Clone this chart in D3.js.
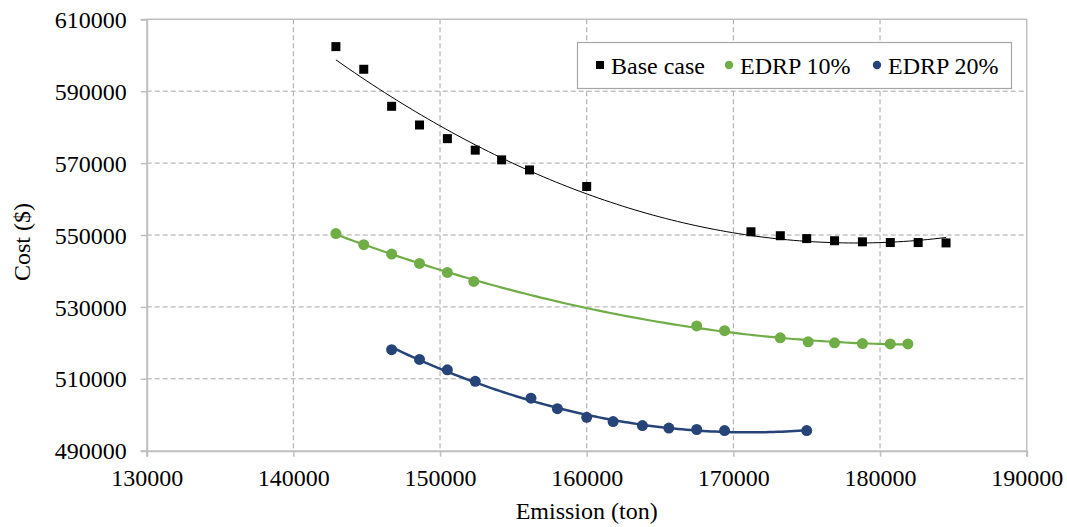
<!DOCTYPE html>
<html lang="en">
<head>
    <meta charset="UTF-8">
    <title>Cost vs Emission</title>
    <script src="https://cdn.jsdelivr.net/npm/d3@7/dist/d3.min.js"></script>
    <style>
        body { margin: 0; background: #fff; }
        svg text { font-family: 'Liberation Serif', Tinos, 'Times New Roman', Times, 'DejaVu Serif', serif !important; fill: #000; }
        .grid line { stroke: #a6a6a6; stroke-width: 1; stroke-dasharray: 5,3; }
    </style>
</head>
<body>
<script>
    // canvas size
    const width = 1067;
    const height = 527;
    const margin = { left: 146.7, right: 40.3, top: 19.3, bottom: 76.3 };

    // data
    const baseX = [142900, 144800, 146700, 148600, 150500, 152400, 154200, 156100, 160000,
                   171200, 173200, 175000, 176900, 178800, 180700, 182600, 184500];
    const baseY = [602400, 596100, 585800, 580600, 576800, 573600, 570900, 568100, 563500,
                   550900, 549800, 549000, 548400, 548100, 547900, 547900, 547800];

    const edrp10X = [142900, 144800, 146700, 148600, 150500, 152300,
                     167500, 169400, 173200, 175100, 176900, 178800, 180700, 181900];
    const edrp10Y = [550400, 547300, 544700, 542100, 539600, 537100,
                     524700, 523400, 521400, 520300, 520000, 519800, 519700, 519700];

    const edrp20X = [146700, 148600, 150500, 152400, 156200, 158000, 160000,
                     161800, 163800, 165600, 167500, 169400, 175000];
    const edrp20Y = [518100, 515400, 512500, 509300, 504600, 501700, 499300,
                     498100, 497000, 496300, 495900, 495600, 495600];

    const xTicks = [130000, 140000, 150000, 160000, 170000, 180000, 190000];
    const yTicks = [490000, 510000, 530000, 550000, 570000, 590000, 610000];

    const seriesNames = ['Base case', 'EDRP 10%', 'EDRP 20%'];
    const seriesColors = ['#000000', '#70ad47', '#264478'];

    let svg = d3.select('body')
        .append('svg')
        .attr('width', width)
        .attr('height', height);

    const x = d3.scaleLinear().domain([130000, 190000]).range([margin.left, width - margin.right]);
    const y = d3.scaleLinear().domain([490000, 610000]).range([height - margin.bottom, margin.top]);

    // grid
    let grid = svg.append('g').attr('class', 'grid');
    grid.selectAll('.gx')
        .data(xTicks.slice(1, -1))
        .enter()
        .append('line')
        .attr('x1', d => x(d)).attr('x2', d => x(d))
        .attr('y1', y(610000)).attr('y2', y(490000));
    grid.selectAll('.gy')
        .data(yTicks.slice(1, -1))
        .enter()
        .append('line')
        .attr('x1', x(130000)).attr('x2', x(190000))
        .attr('y1', d => y(d)).attr('y2', d => y(d));

    // plot border (top / right)
    svg.append('path')
        .attr('d', `M${x(130000)},${y(610000)}H${x(190000)}V${y(490000)}`)
        .attr('fill', 'none')
        .attr('stroke', '#bfbfbf')
        .attr('stroke-width', 1.5);

    // axes
    let xAxis = svg.append('g')
        .attr('transform', `translate(0,${y(490000)})`)
        .call(d3.axisBottom(x).tickValues(xTicks).tickFormat(d3.format('d')).tickSizeOuter(0).tickSize(6).tickPadding(12));
    let yAxis = svg.append('g')
        .attr('transform', `translate(${x(130000)},0)`)
        .call(d3.axisLeft(y).tickValues(yTicks).tickFormat(d3.format('d')).tickSizeOuter(0).tickSize(6).tickPadding(14));

    [xAxis, yAxis].forEach(a => {
        a.attr('font-family', null).attr('font-size', null);
        a.select('.domain').attr('stroke', '#bfbfbf').attr('stroke-width', 2);
        a.selectAll('.tick line').attr('stroke', '#bfbfbf').attr('stroke-width', 1.5);
        a.selectAll('.tick text')
            .style('font-size', '24px')
            .attr('fill', '#000');
    });
    yAxis.selectAll('.tick text').attr('dy', '0.34em');

    svg.append('text')
        .attr('x', (x(130000) + x(190000)) / 2)
        .attr('y', 519)
        .attr('text-anchor', 'middle')
        .style('font-size', '24px')
        .text('Emission (ton)');

    svg.append('text')
        .attr('transform', 'translate(30,242) rotate(-90)')
        .attr('text-anchor', 'middle')
        .style('font-size', '24px')
        .text('Cost ($)');

    // quadratic least squares trendline (like the spreadsheet's polynomial trendline)
    function polyFit (xs, ys) {
        const m = d3.mean(xs);
        const s = 10000;
        const u = xs.map(v => (v - m) / s);
        let S = [0, 0, 0, 0, 0], T = [0, 0, 0];
        u.forEach((v, i) => {
            for (let k = 0; k < 5; k++) S[k] += Math.pow(v, k);
            for (let k = 0; k < 3; k++) T[k] += ys[i] * Math.pow(v, k);
        });
        const A = [[S[0], S[1], S[2]], [S[1], S[2], S[3]], [S[2], S[3], S[4]]];
        const det = M => M[0][0] * (M[1][1] * M[2][2] - M[1][2] * M[2][1])
            - M[0][1] * (M[1][0] * M[2][2] - M[1][2] * M[2][0])
            + M[0][2] * (M[1][0] * M[2][1] - M[1][1] * M[2][0]);
        const D = det(A);
        const c = [0, 1, 2].map(j => det(A.map((row, r) => row.map((v, k) => k === j ? T[r] : v))) / D);
        return v => {
            const t = (v - m) / s;
            return c[0] + c[1] * t + c[2] * t * t;
        };
    }

    const series = [
        { xs: baseX, ys: baseY, w: 1 },
        { xs: edrp10X, ys: edrp10Y, w: 2.2 },
        { xs: edrp20X, ys: edrp20Y, w: 2.5 }
    ];

    const line = d3.line().x(d => x(d[0])).y(d => y(d[1]));

    series.forEach((s, i) => {
        const f = polyFit(s.xs, s.ys);
        const lo = d3.min(s.xs), hi = d3.max(s.xs);
        const pts = d3.range(0, 101).map(k => {
            const v = lo + (hi - lo) * k / 100;
            return [v, f(v)];
        });
        svg.append('path')
            .datum(pts)
            .attr('d', line)
            .attr('fill', 'none')
            .attr('stroke', seriesColors[i])
            .attr('stroke-width', s.w);

        const pointData = s.xs.map((v, k) => [v, s.ys[k]]);
        if (i === 0) {
            svg.append('g').selectAll('rect')
                .data(pointData)
                .enter()
                .append('rect')
                .attr('x', d => x(d[0]) - 4.5)
                .attr('y', d => y(d[1]) - 4.5)
                .attr('width', 9)
                .attr('height', 9)
                .attr('fill', seriesColors[i]);
        } else {
            svg.append('g').selectAll('circle')
                .data(pointData)
                .enter()
                .append('circle')
                .attr('cx', d => x(d[0]))
                .attr('cy', d => y(d[1]))
                .attr('r', 5.5)
                .attr('fill', seriesColors[i]);
        }
    });

    // legend
    let legend = svg.append('g');
    legend.append('rect')
        .attr('x', 577.5).attr('y', 42.5)
        .attr('width', 434).attr('height', 46)
        .attr('fill', '#fff')
        .attr('stroke', '#a6a6a6')
        .attr('stroke-width', 1.2);

    const legendPos = [596, 725, 873];
    seriesNames.forEach((name, i) => {
        if (i === 0) {
            legend.append('rect')
                .attr('x', legendPos[i]).attr('y', 61)
                .attr('width', 8).attr('height', 8)
                .attr('fill', seriesColors[i]);
        } else {
            legend.append('circle')
                .attr('cx', legendPos[i] + 4).attr('cy', 65)
                .attr('r', 4.2)
                .attr('fill', seriesColors[i]);
        }
        legend.append('text')
            .attr('x', legendPos[i] + 15)
            .attr('y', 73.5)
            .style('font-size', '24px')
            .text(name);
    });
</script>
</body>
</html>
